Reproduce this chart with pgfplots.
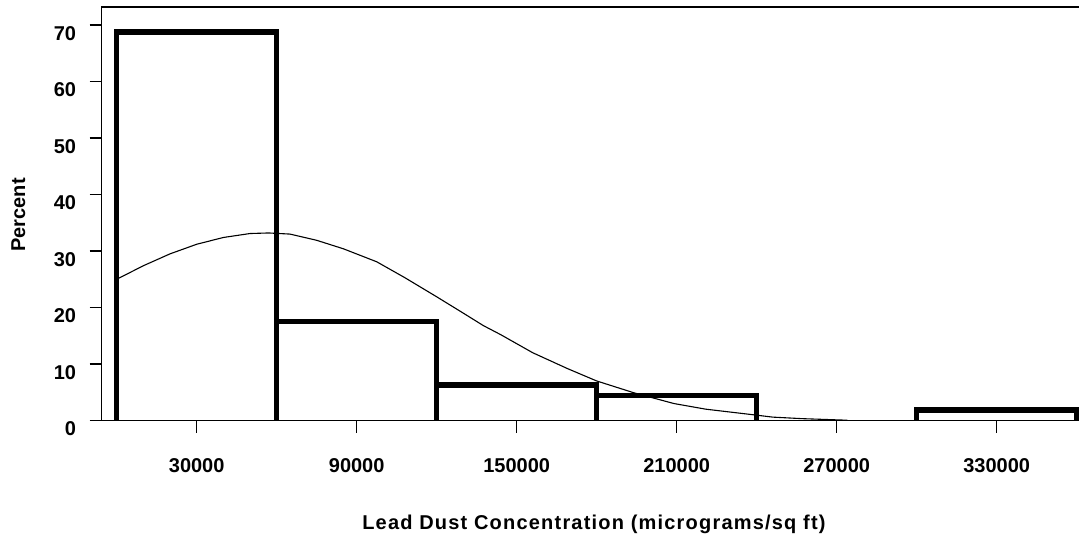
\documentclass[border=0pt]{standalone}
\usepackage{fontspec}
\setmainfont{Liberation Sans}
\usepackage{pgfplots}
\pgfplotsset{compat=1.18}
\begin{document}
\begin{tikzpicture}
\useasboundingbox (0pt,0pt) rectangle (1079pt,-536pt);
\begin{axis}[
  scale only axis,
  at={(101.6pt,-420.5pt)}, anchor=south west,
  width=980.4pt, height=413.5pt,
  xmin=-5662, xmax=362000, ymin=0, ymax=73.2,
  axis line style={line width=1.3pt, black},
  tick style={line width=1.3pt, black},
  tick align=outside,
  major tick length=12pt,
  xtick pos=lower, ytick pos=left,
  xtick={30000,90000,150000,210000,270000,330000},
  xticklabels={30000,90000,150000,210000,270000,330000},
  ytick={0,10,20,30,40,50,60,70},
  yticklabels={0,10,20,30,40,50,60,70},
  scaled x ticks=false,
  ticklabel style={font=\bfseries\fontsize{20}{24}\selectfont},
  xticklabel style={yshift=-22pt},
  yticklabel style={xshift=-10pt, yshift=-8.5pt},
  xlabel={Lead Dust Concentration (micrograms/sq ft)},
  xlabel style={font=\bfseries\fontsize{20}{24}\selectfont\addfontfeature{LetterSpace=6}, at={(axis description cs:0.5022,-0.2503)}, anchor=center},
  ylabel={Percent},
  ylabel style={font=\bfseries\fontsize{20}{24}\selectfont, at={(axis description cs:-0.085,0.497)}, anchor=center},
]
\addplot[black, line width=1.1pt] coordinates {
(0,25.0) (10000,27.4) (20000,29.5) (30000,31.2) (40000,32.4) (50000,33.1)
(57000,33.2) (65000,33.0) (75000,31.9) (85000,30.4) (97500,28.1)
(108000,25.3) (120000,21.9) (130000,19.0) (137500,16.8) (144000,15.2)
(156000,12.0) (169000,9.2) (180000,7.0) (194000,4.9) (209000,3.0)
(221000,2.0) (239000,1.0) (246000,0.6) (257000,0.33) (274000,0.05)
};
\addplot[black, line width=5.6pt, line join=miter, line cap=butt, unbounded coords=jump] coordinates {
(0,0) (0,68.8) (60000,68.8) (60000,0) (nan,nan)
(60000,17.5) (120000,17.5) (120000,0) (nan,nan)
(120000,6.3) (180000,6.3) (180000,0) (nan,nan)
(180000,4.4) (240000,4.4) (240000,0) (nan,nan)
(300000,0) (300000,1.85) (360000,1.85) (360000,0)
};
\end{axis}
\end{tikzpicture}
\end{document}
